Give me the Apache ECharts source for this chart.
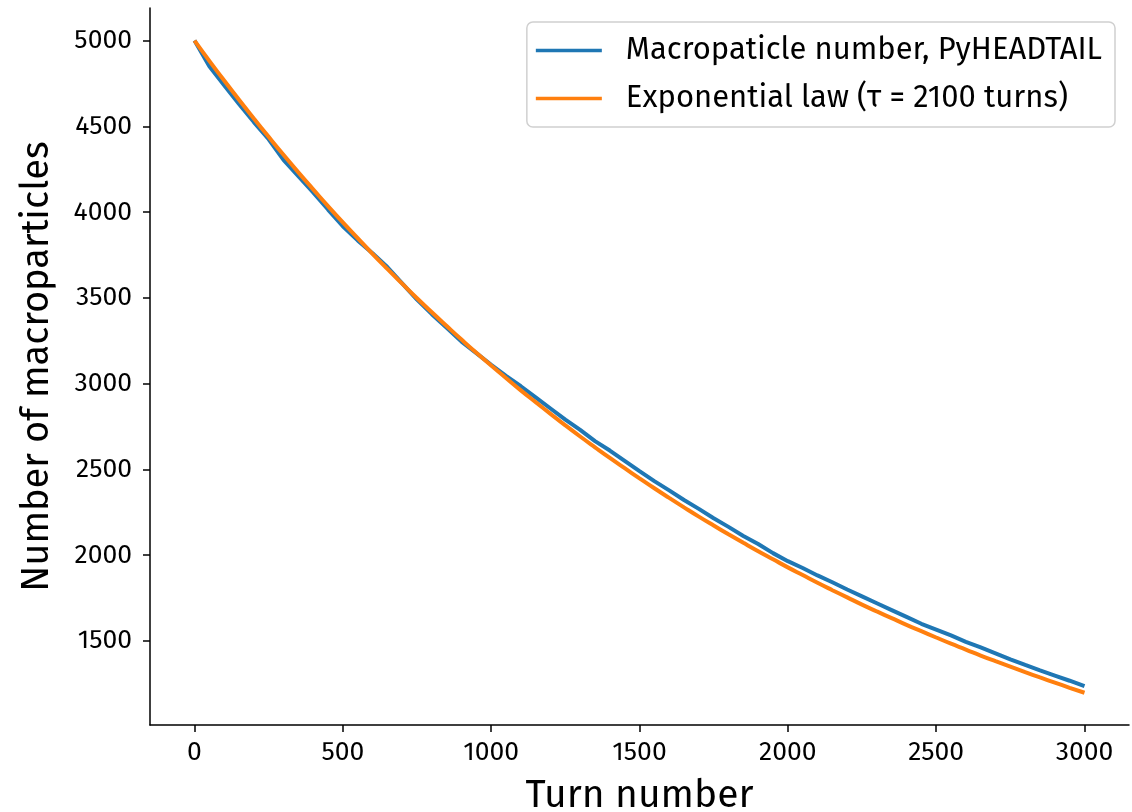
<!DOCTYPE html>
<html>
<head>
<meta charset="utf-8">
<script src="https://cdn.jsdelivr.net/npm/echarts@6/dist/echarts.min.js"></script>
<style>
  html, body { margin: 0; padding: 0; background: #fff; }
  #chart { width: 1132px; height: 812px; }
</style>
</head>
<body>
<div id="chart"></div>
<script>
// Turn numbers at which the macroparticle count is sampled
const turns = [0, 50, 100, 150, 200, 250, 300, 350, 400, 450, 500, 550, 600, 650, 700, 750,
  800, 850, 900, 950, 1000, 1050, 1100, 1150, 1200, 1250, 1300, 1350, 1400, 1450, 1500,
  1550, 1600, 1650, 1700, 1750, 1800, 1850, 1900, 1950, 2000, 2050, 2100, 2150, 2200,
  2250, 2300, 2350, 2400, 2450, 2500, 2550, 2600, 2650, 2700, 2750, 2800, 2850, 2900,
  2950, 3000];

// Macroparticle number tracked by PyHEADTAIL
const simulated = [5000, 4850, 4740, 4630, 4525, 4425, 4305, 4210, 4115, 4015, 3918, 3835,
  3760, 3680, 3585, 3490, 3405, 3325, 3245, 3178, 3110, 3045, 2985, 2920, 2855, 2790,
  2730, 2665, 2610, 2550, 2490, 2432, 2378, 2322, 2270, 2215, 2165, 2112, 2065, 2012,
  1965, 1925, 1882, 1842, 1800, 1760, 1720, 1680, 1640, 1600, 1566, 1532, 1495, 1462,
  1428, 1393, 1360, 1328, 1298, 1268, 1236];

// Exponential law with tau = 2100 turns
const expLaw = [5000, 4882, 4767, 4655, 4546, 4439, 4334, 4232, 4133, 4035, 3940, 3848,
  3757, 3669, 3583, 3498, 3416, 3336, 3257, 3180, 3106, 3033, 2961, 2892, 2824, 2757,
  2692, 2629, 2567, 2507, 2448, 2390, 2334, 2279, 2225, 2173, 2122, 2072, 2023, 1976,
  1929, 1884, 1839, 1796, 1754, 1712, 1672, 1633, 1594, 1557, 1520, 1484, 1450, 1415,
  1382, 1350, 1318, 1287, 1257, 1227, 1198];

const xTicks = [0, 500, 1000, 1500, 2000, 2500, 3000];
const yTicks = [1500, 2000, 2500, 3000, 3500, 4000, 4500, 5000];

const seriesNames = ['Macropaticle number, PyHEADTAIL', 'Exponential law (\u03c4 = 2100 turns)'];

const FONT = '"Fira Sans", "Noto Sans", sans-serif';

const chart = echarts.init(document.getElementById('chart'), null, { renderer: 'canvas' });

const axisCommon = {
  type: 'value',
  splitLine: { show: false },
  axisLine: { show: true, onZero: false, lineStyle: { color: '#000', width: 1.5 } },
  axisTick: { show: true, inside: false, length: 7, lineStyle: { color: '#000', width: 1.5 } },
  nameTextStyle: { fontFamily: FONT, fontSize: 38, color: '#000' }
};

const tickLabel = (margin, ticks) => ({
  customValues: ticks,
  fontFamily: FONT,
  fontSize: 26.5,
  color: '#000',
  margin: margin,
  formatter: v => String(v)
});

chart.setOption({
  animation: false,
  backgroundColor: '#fff',
  grid: { left: 150, right: 3, top: 8, bottom: 87, containLabel: false, outerBoundsMode: 'none' },
  legend: {
    orient: 'vertical',
    right: 17,
    top: 22,
    padding: [13, 13, 13, 9],
    itemWidth: 66,
    itemHeight: 3.5,
    itemGap: 17,
    borderColor: '#d0d0d0',
    borderWidth: 1.5,
    borderRadius: 6,
    backgroundColor: 'rgba(255,255,255,0.8)',
    textStyle: { fontFamily: FONT, fontSize: 31, color: '#000', padding: [0, 0, 0, 19] },
    data: seriesNames.map(n => ({ name: n, icon: 'rect' }))
  },
  xAxis: Object.assign({}, axisCommon, {
    min: -150,
    max: 3150,
    name: 'Turn number',
    nameLocation: 'middle',
    nameGap: 52,
    nameTextStyle: Object.assign({}, axisCommon.nameTextStyle, { fontSize: 39 }),
    axisTick: Object.assign({}, axisCommon.axisTick, { customValues: xTicks }),
    axisLabel: tickLabel(14, xTicks)
  }),
  yAxis: Object.assign({}, axisCommon, {
    min: 1010,
    max: 5190,
    name: 'Number of macroparticles',
    nameLocation: 'middle',
    nameGap: 94,
    axisTick: Object.assign({}, axisCommon.axisTick, { customValues: yTicks }),
    axisLabel: tickLabel(18, yTicks)
  }),
  series: [
    {
      name: seriesNames[0],
      type: 'line',
      data: turns.map((t, i) => [t, simulated[i]]),
      showSymbol: false,
      symbol: 'none',
      color: '#1f77b4',
      lineStyle: { color: '#1f77b4', width: 4 },
      z: 2
    },
    {
      name: seriesNames[1],
      type: 'line',
      data: turns.map((t, i) => [t, expLaw[i]]),
      showSymbol: false,
      symbol: 'none',
      smooth: true,
      color: '#ff7f0e',
      lineStyle: { color: '#ff7f0e', width: 4 },
      z: 3
    }
  ]
});
</script>
</body>
</html>
